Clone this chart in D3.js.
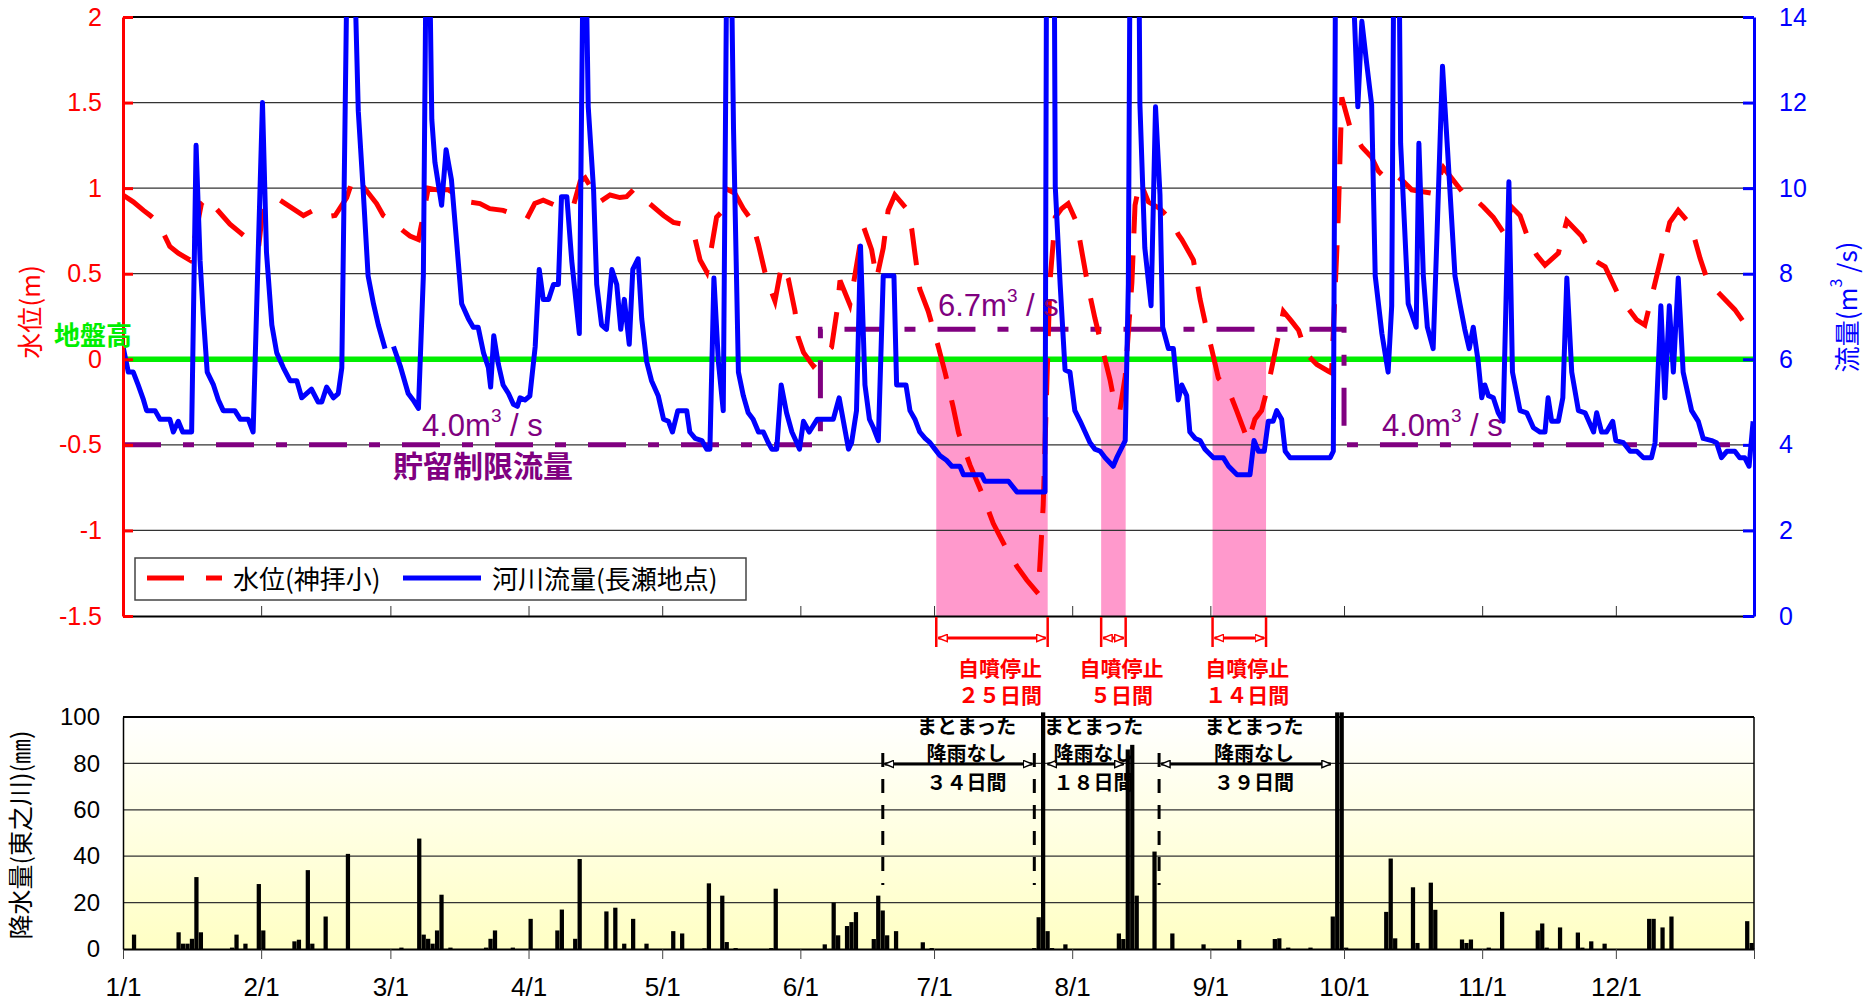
<!DOCTYPE html>
<html>
<head>
<meta charset="utf-8">
<script src="https://cdn.jsdelivr.net/npm/d3@7"></script>
<style>
body { margin: 0; background: #fff; }
text { font-family: "Liberation Sans", Arial, "Noto Sans CJK JP", sans-serif; }
.jp { font-family: "Noto Sans CJK JP", sans-serif; }
</style>
</head>
<body>
<div id="chart-area"></div>
<script>
// month starts (day of year, leap year) and their labels
var monthStarts = [0, 31, 60, 91, 121, 152, 182, 213, 244, 274, 305, 335, 366]
var monthLabels = ["1/1", "2/1", "3/1", "4/1", "5/1", "6/1", "7/1", "8/1", "9/1", "10/1", "11/1", "12/1", ""]
var levelTicks = [-1.5, -1, -0.5, 0, 0.5, 1, 1.5, 2]
var flowTicks = [0, 2, 4, 6, 8, 10, 12, 14]
var rainTicks = [0, 20, 40, 60, 80, 100]

// water level at 神拝小 (m)
var levelDays = [0, 2.3, 4.6, 6.1, 7.9, 10.5, 12.4, 15, 16.2, 17.6, 18.8, 19.9, 24, 26.3, 27.7, 29.2, 30.4, 31.1, 32.2, 35.2,
  40.5, 42.7, 44.9, 47.6, 50.2, 51.7, 53.9, 56.9, 58.4, 60.7, 62.9, 64.4, 66.3, 67, 68.5, 70.4, 73, 77.5, 80.1, 82.3,
  85.3, 90.6, 92.4, 94.3, 97, 101.1, 102.6, 103.7, 107, 109.3, 111.5, 113, 114.5, 118.6, 121.3, 123.5, 125.4, 128.4, 129.5, 131,
  132.1, 133.2, 134.3, 135.8, 137.3, 139.2, 141.1, 142.6, 144.4, 146.3, 147.8, 149.3, 150.8, 151.5, 152.7, 154.9, 159, 160.2, 160.9, 163.1,
  164.3, 166.1, 168, 169.1, 170.6, 171.7, 173.2, 175.8, 177, 177.7, 178.8, 180.7, 183, 184.5, 186.3, 187.5, 190.1, 192.7, 195.3, 198.3,
  200.6, 202.8, 205.4, 206.5, 208, 209.2, 210.6, 212.1, 214, 215.5, 216.6, 218.1, 219.6, 221.5, 222.6, 223.7, 224.9, 226.4, 227.1, 228.2,
  230.1, 232.7, 235, 236.8, 237.6, 240.2, 241.7, 242.8, 244.3, 245.8, 248.1, 249.9, 252.5, 254, 255.5, 257, 258.5, 260.4, 262.3, 263.8,
  265.6, 267.9, 270.5, 271.2, 272.7, 273.5, 275.3, 278, 280.2, 281.7, 283.6, 285.4, 287.3, 289.2, 293.7, 296.3, 300.8, 303, 305.3, 307.5,
  309.8, 311.6, 313.5, 315.4, 317.2, 319.1, 322.1, 324, 327.3, 328.8, 330.7, 332.6, 335.5, 337.4, 339.7, 341.5, 347.1, 349, 351.3, 352.4,
  353.9, 355.7, 357.6, 361.7, 363.6, 364.7, 366]
var levelValues = [0.96, 0.92, 0.87, 0.84, 0.80, 0.66, 0.62, 0.58, 0.72, 0.91, 0.945, 0.91, 0.79, 0.74, 0.71, 0.67, 0.65, 0.81, 0.92, 0.93,
  0.84, 0.87, 0.83, 0.84, 0.945, 1.06, 1.01, 0.91, 0.84, 0.80, 0.75, 0.72, 0.70, 0.79, 1.0, 0.99, 0.99, 0.92, 0.91, 0.88,
  0.87, 0.82, 0.91, 0.93, 0.90, 0.90, 1.04, 1.06, 0.92, 0.96, 0.945, 0.95, 0.99, 0.90, 0.84, 0.80, 0.79, 0.70, 0.58, 0.51,
  0.66, 0.83, 0.86, 0.99, 0.97, 0.88, 0.81, 0.67, 0.47, 0.34, 0.55, 0.47, 0.28, 0.13, 0.04, -0.04, 0.07, 0.28, 0.46, 0.32,
  0.50, 0.78, 0.64, 0.47, 0.65, 0.87, 0.96, 0.88, 0.76, 0.62, 0.41, 0.28, 0.07, -0.08, -0.28, -0.43, -0.62, -0.78, -0.96, -1.11,
  -1.21, -1.29, -1.37, -0.85, 0.45, 0.83, 0.88, 0.91, 0.80, 0.58, 0.42, 0.24, 0.08, -0.12, -0.27, -0.30, -0.10, 0.45, 0.90, 1.04,
  0.92, 0.88, 0.82, 0.73, 0.70, 0.58, 0.35, 0.22, 0.06, -0.11, -0.18, -0.30, -0.48, -0.35, -0.30, -0.15, 0.04, 0.28, 0.22, 0.17,
  0.03, -0.03, -0.07, -0.08, 0.83, 1.53, 1.36, 1.24, 1.18, 1.10, 1.05, 1.08, 1.04, 0.99, 0.97, 1.12, 0.97, 0.945, 0.89, 0.83,
  0.74, 0.89, 0.84, 0.70, 0.61, 0.55, 0.62, 0.81, 0.72, 0.65, 0.57, 0.54, 0.38, 0.31, 0.23, 0.20, 0.80, 0.87, 0.80, 0.73,
  0.59, 0.45, 0.40, 0.29, 0.22, 0.18, 0.22]

// river flow at 長瀬 (m3/s); null = missing
var flowDays = [0, 1.2, 2.3, 3.4, 4.6, 5.3, 7.2, 8.3, 10.5, 11.3, 12.4, 13.4, 15.4, 16.4, 17.3, 18, 18.9, 20.3, 21.4, 22.5,
  25.1, 26.3, 28.1, 29.2, 31.3, 32.2, 33.4, 34.5, 36, 37.5, 39, 40.1, 42.3, 43.8, 44.6, 45.7, 47.2, 48.3, 49.1, 50.5,
  51.5, 52.8, 53.9, 55, 56.2, 57.3, 58.8, 59.7, 60.7, 62.2, 64, 65.1, 66.3, 67.4, 68.3, 69.3, 70, 71.5, 72.5, 73.7,
  74.9, 76, 77.5, 78.6, 79.7, 80.9, 82, 82.5, 83.2, 84.2, 85.3, 86.5, 87.6, 88.5, 89.1, 90.2, 91.3, 92.5, 93.4, 94.3,
  95.5, 96.6, 97.7, 98.4, 99.6, 100.7, 102.4, 103.4, 103.8, 104.4, 105.6, 106.3, 107.4, 108.5, 109.7, 110.8, 111.7, 112.5, 113.6, 114.4,
  115.6, 116.4, 117.5, 118.6, 120.1, 121.3, 122.4, 123.3, 124.5, 126.5, 127.2, 128.4, 129.9, 131, 131.7, 132.6, 133.6, 134.7, 135.6, 136.3,
  137, 138.1, 139.2, 140.3, 141.4, 142.6, 143.7, 144.8, 145.6, 146.7, 147.7, 148.9, 150.1, 151.2, 151.8, 152.7, 154, 155.8, 159.4, 160.7,
  162.8, 163.5, 164.6, 165.5, 166.5, 167.5, 168.4, 169.5, 170.6, 173, 173.6, 175.7, 176.6, 177.7, 178.8, 180, 181.1, 182.2, 183.3, 184.8,
  186, 187.8, 188.6, 192.7, 193.4, 198.7, 200.6, 206.9, 207.5, 208.7, 209.2, 210.3, 211.4, 212.5, 213.6, 214.8, 215.9, 217, 218.1, 219.3,
  220.4, 222.2, 223, 224.9, 225.6, 226.3, 227.8, 228.2, 229.3, 230.7, 231.7, 232.7, 233.3, 234.6, 235.7, 236.8, 237.6, 238.7, 239.4, 240.6,
  241.7, 242.8, 244.7, 246.9, 248.1, 250, 252.9, 253.8, 254.8, 256.1, 257, 258.1, 258.9, 260, 260.8, 261.9, 270.9, 271.6, 272.3, 275.6,
  277.1, 278, 279.1, 280.2, 281, 282.5, 283.9, 284.7, 285.2, 286.3, 286.7, 287.7, 288.4, 290.2, 290.8, 291.8, 292.7, 294, 294.8, 296.1,
  297.2, 298.9, 300, 301.1, 302.1, 303, 304.1, 304.9, 305.6, 306.4, 307.5, 308.6, 309.7, 311, 311.8, 313.5, 315, 316.5, 318, 319.1,
  319.8, 320.6, 322.1, 323.1, 324, 325.1, 326.6, 328.1, 330, 330.7, 331.8, 332.9, 334.3, 335, 336.7, 338.2, 339.7, 341.2, 343, 343.8,
  345.1, 346, 347, 347.9, 349, 350.1, 352, 353.5, 354.6, 356.5, 357.6, 358.7, 359.9, 361.7, 362.8, 363.9, 364.9, 365.8]
var flowValues = [6.3, 5.7, 5.7, 5.4, 5.05, 4.8, 4.8, 4.6, 4.6, 4.3, 4.55, 4.3, 4.3, 11.0, 8.3, 7.05, 5.7, 5.4, 5.05, 4.8,
  4.8, 4.6, 4.6, 4.3, 12.0, 8.5, 6.8, 6.15, 5.8, 5.5, 5.5, 5.1, 5.3, 5.0, 5.0, 5.35, 5.1, 5.2, 5.8, 17,
  17, 11.8, 9.95, 7.95, 7.3, 6.8, 6.25, null, 6.3, 5.85, 5.2, 5.05, 4.85, 7.95, 19, 11.6, 10.6, 9.6, 10.9, 10.2,
  8.7, 7.3, 6.95, 6.75, 6.75, 6.15, 5.8, 5.35, 6.55, 5.9, 5.4, 5.2, 4.95, 4.9, 5.1, 5.05, 5.14, 6.3, 8.1, 7.4,
  7.4, 7.75, 7.75, 9.8, 9.8, 8.3, 6.6, 17, 16, 11.9, 9.95, 7.75, 6.8, 6.7, 8.1, 7.75, 6.7, 7.4, 6.35, 8.1,
  8.35, 6.95, 5.95, 5.5, 5.15, 4.6, 4.55, 4.3, 4.8, 4.8, 4.3, 4.15, 4.1, 3.9, 3.9, 7.9, 5.95, 4.8, 17, 17,
  11.4, 5.7, 5.15, 4.75, 4.6, 4.3, 4.3, 4.05, 3.9, 3.9, 5.4, 4.75, 4.3, 4.05, 3.9, 4.55, 4.3, 4.6, 4.6, 5.1,
  3.9, 4.05, 4.8, 8.65, 5.4, 4.6, 4.4, 4.1, 7.95, 7.95, 5.4, 5.4, 4.8, 4.6, 4.3, 4.15, 4.05, 3.9, 3.75, 3.64,
  3.5, 3.5, 3.3, 3.3, 3.15, 3.15, 2.9, 2.9, 25, 22, 10.05, 7.75, 5.75, 5.7, 4.8, 4.55, 4.3, 4.05, 3.9, 3.85,
  3.7, 3.5, 3.7, 4.1, 7.75, 22, 18, 11.95, 8.6, 7.25, 11.9, 9.85, 6.75, 6.25, 6.25, 5.05, 5.4, 5.15, 4.3, 4.15,
  4.1, 3.9, 3.7, 3.7, 3.5, 3.3, 3.3, 4.1, 3.85, 3.85, 4.55, 4.55, 4.8, 4.6, 3.85, 3.7, 3.7, 3.85, 20, 16,
  11.9, 13.9, 12.9, 11.95, 7.95, 6.6, 5.7, 7.25, 16, 16, 11.05, 8.85, 7.3, 6.75, 11.05, 7.95, 6.75, 6.25, 8.7, 12.85,
  10.95, 7.95, 7.3, 6.7, 6.25, 6.75, 5.95, 5.1, 5.4, 5.15, 5.1, 4.75, 4.55, 10.15, 5.7, 4.8, 4.75, 4.4, 4.3, 4.3,
  5.1, 4.55, 4.55, 5.1, 7.9, 5.7, 4.8, 4.75, 4.3, 4.75, 4.3, 4.3, 4.55, 4.1, 4.05, 3.85, 3.85, 3.7, 3.7, 4.05,
  7.25, 5.1, 7.25, 5.7, 7.9, 5.7, 4.8, 4.55, 4.15, 4.1, 4.05, 3.7, 3.85, 3.85, 3.7, 3.7, 3.5, 4.55]

// daily rainfall at 東之川 (mm)
var rainDays = [2, 12, 13, 14, 15, 16, 17, 24, 25, 27, 30, 31, 38, 39, 41, 42, 45, 50, 62, 66,
  67, 68, 69, 70, 71, 73, 81, 82, 83, 87, 91, 97, 98, 101, 102, 108, 110, 112, 114, 117,
  123, 125, 130, 131, 134, 135, 137, 145, 146, 157, 159, 160, 162, 163, 164, 168, 169, 170, 171, 173,
  179, 181, 204, 205, 206, 207, 208, 211, 223, 224, 225, 226, 227, 231, 235, 242, 250, 258, 259, 261,
  266, 271, 272, 273, 274, 283, 284, 285, 289, 290, 293, 294, 300, 301, 302, 306, 309, 317, 318, 319,
  322, 326, 327, 329, 332, 342, 343, 345, 347, 364, 365]
var rainValues = [6.2, 7.2, 2.3, 2.3, 4.4, 31, 7.2, 0.6, 6.2, 2.3, 28, 8, 3.3, 4, 34, 2.3, 14, 41, 0.6, 47.6,
  6.2, 4.4, 2.3, 8, 23.4, 0.6, 0.6, 4.4, 8, 0.6, 13, 8, 17, 4.4, 38.8, 16.2, 17.8, 2.3, 13, 2.3,
  7.7, 6.7, 0.3, 28.3, 23, 3, 0.4, 0.4, 26, 2, 20, 5.9, 9.9, 11.6, 15.9, 4.3, 23, 16.6, 5.9, 7.7,
  2.9, 0.4, 0.4, 13.7, 102, 7.7, 0.4, 2, 6.7, 4.3, 86, 88, 23, 42, 6.7, 2, 3.9, 4.3, 4.6, 0.6,
  0.6, 14, 102, 102, 0.6, 16, 39, 4.6, 26.6, 2.6, 28.6, 16.9, 4.1, 2.6, 4.1, 0.6, 16, 8, 11, 0.6,
  9.3, 7.1, 0.6, 3.3, 2.3, 13, 13, 9.3, 14, 12, 2.6]

// storage limit flow (m3/s)
var limitDays = [0, 156.5, 156.5, 274, 274, 366]
var limitValues = [4.0, 4.0, 6.7, 6.7, 4.0, 4.0]

// artesian flow stopped periods
var stopStart = [182.5, 219.5, 244.5]
var stopEnd = [207.5, 225, 256.5]
var stopLabels = ["２５日間", "５日間", "１４日間"]

// periods without significant rain
var dryStart = [170.5, 207, 232.5]
var dryEnd = [204.5, 225, 271.5]
var dryLabels = ["３４日間", "１８日間", "３９日間"]
var dryMarks = [170.5, 204.5, 232.5]

var width = 1871
var height = 1001
var L = 123, R = 1754
var top1 = 17, bot1 = 616
var top2 = 717, bot2 = 949

var svg = d3.select("#chart-area").append("svg")
  .attr("width", width).attr("height", height)

var defs = svg.append("defs")
defs.append("clipPath").attr("id", "clip1").append("rect")
  .attr("x", L).attr("y", top1).attr("width", R - L).attr("height", bot1 - top1)
var grad = defs.append("linearGradient").attr("id", "rainbg")
  .attr("x1", 0).attr("y1", 0).attr("x2", 0).attr("y2", 1)
grad.append("stop").attr("offset", "0%").attr("stop-color", "#ffffff")
grad.append("stop").attr("offset", "100%").attr("stop-color", "#ffffc4")

function marker(id, color) {
  defs.append("marker").attr("id", id)
    .attr("viewBox", "0 0 10 10").attr("refX", 10).attr("refY", 5)
    .attr("markerUnits", "userSpaceOnUse")
    .attr("markerWidth", 10).attr("markerHeight", 9)
    .attr("orient", "auto-start-reverse")
    .append("path").attr("d", "M0,1 L10,5 L0,9 Z")
    .attr("fill", "#fff").attr("stroke", color).attr("stroke-width", 1.6)
}
marker("arrR", "#ff0000")
marker("arrK", "#000000")

var x = d3.scaleLinear().domain([0, 366]).range([L, R])
var yL = d3.scaleLinear().domain([-1.5, 2]).range([bot1, top1])
var yR = d3.scaleLinear().domain([0, 14]).range([bot1, top1])
var yB = d3.scaleLinear().domain([0, 100]).range([bot2, top2])

// ---------- upper chart ----------
var g1 = svg.append("g")

g1.selectAll("rect.stop").data(stopStart).enter().append("rect")
  .attr("class", "stop")
  .attr("x", (d) => x(d))
  .attr("y", yL(0))
  .attr("width", (d, i) => x(stopEnd[i]) - x(d))
  .attr("height", bot1 - yL(0))
  .attr("fill", "#ff99cc")

g1.selectAll("line.grid").data(levelTicks.filter((d) => d > -1.5)).enter().append("line")
  .attr("class", "grid")
  .attr("x1", L).attr("x2", R)
  .attr("y1", (d) => yL(d)).attr("y2", (d) => yL(d))
  .attr("stroke", (d) => d == 2 ? "#000" : "#333")
  .attr("stroke-width", (d) => d == 2 ? 2 : 1.2)

g1.append("line")
  .attr("x1", L).attr("x2", R).attr("y1", yL(0)).attr("y2", yL(0))
  .attr("stroke", "#00ee00").attr("stroke-width", 5.5)

var plot = g1.append("g").attr("clip-path", "url(#clip1)")

var limitPts = limitDays.map((d, i) => [d, limitValues[i]])
plot.append("path").datum(limitPts)
  .attr("d", d3.line().x((d) => x(d[0])).y((d) => yR(d[1])))
  .attr("fill", "none").attr("stroke", "#800080").attr("stroke-width", 5)
  .attr("stroke-dasharray", "38,22,11,22")

var levelPts = levelDays.map((d, i) => [d, levelValues[i]])
plot.append("path").datum(levelPts)
  .attr("d", d3.line().x((d) => x(d[0])).y((d) => yL(d[1])))
  .attr("fill", "none").attr("stroke", "#ff0000").attr("stroke-width", 5)
  .attr("stroke-dasharray", "37,22")

var flowPts = flowDays.map((d, i) => [d, flowValues[i]])
plot.append("path").datum(flowPts)
  .attr("d", d3.line().defined((d) => d[1] != null).x((d) => x(d[0])).y((d) => yR(d[1])))
  .attr("fill", "none").attr("stroke", "#0000ff").attr("stroke-width", 5)
  .attr("stroke-linejoin", "round")

// axes
var bottom1 = d3.axisBottom(x).tickValues(monthStarts).tickFormat("")
  .tickSizeInner(-10).tickSizeOuter(0)
g1.append("g").attr("transform", `translate(0, ${bot1})`).call(bottom1)
  .call((a) => a.select(".domain").attr("stroke-width", 2))
  .call((a) => a.selectAll(".tick line").attr("stroke", "#333"))

var leftAxis = d3.axisLeft(yL).tickValues(levelTicks).tickSizeInner(-10).tickSizeOuter(0)
  .tickPadding(21).tickFormat((d) => d)
g1.append("g").attr("transform", `translate(${L}, 0)`).call(leftAxis)
  .call((a) => a.select(".domain").attr("stroke", "#ff0000").attr("stroke-width", 3))
  .call((a) => a.selectAll(".tick line").attr("stroke", "#ff0000").attr("stroke-width", 3))
  .call((a) => a.selectAll("text").attr("fill", "#ff0000").attr("font-size", "25px")
    .attr("font-family", "Liberation Sans, Arial, sans-serif"))

var rightAxis = d3.axisRight(yR).tickValues(flowTicks).tickSizeInner(-11).tickSizeOuter(0).tickPadding(25)
g1.append("g").attr("transform", `translate(${R}, 0)`).call(rightAxis)
  .call((a) => a.select(".domain").attr("stroke", "#0000ff").attr("stroke-width", 3))
  .call((a) => a.selectAll(".tick line").attr("stroke", "#0000ff").attr("stroke-width", 3))
  .call((a) => a.selectAll("text").attr("fill", "#0000ff").attr("font-size", "25px")
    .attr("font-family", "Liberation Sans, Arial, sans-serif"))

g1.append("text").attr("class", "jp")
  .attr("transform", `translate(28, 312) rotate(-90)`)
  .attr("text-anchor", "middle").attr("dominant-baseline", "central")
  .attr("font-size", "26px").attr("fill", "#ff0000")
  .text("水位(m)")

var rt = g1.append("text").attr("class", "jp")
  .attr("transform", `translate(1845, 307) rotate(-90)`)
  .attr("text-anchor", "middle").attr("dominant-baseline", "central")
  .attr("font-size", "26px").attr("fill", "#0000ff")
rt.append("tspan").text("流量(m")
rt.append("tspan").attr("font-size", "16px").attr("dy", -10).text("3")
rt.append("tspan").attr("dy", 10).text(" /s)")

g1.append("text").attr("class", "jp")
  .attr("x", 54).attr("y", 345)
  .attr("font-size", "26px").attr("font-weight", "bold").attr("fill", "#00ee00")
  .text("地盤高")

function unitLabel(px, py, num) {
  var t = g1.append("text").attr("x", px).attr("y", py)
    .attr("font-size", "31px").attr("fill", "#800080")
  t.append("tspan").text(num + "m")
  t.append("tspan").attr("font-size", "19px").attr("dy", -14).text("3")
  t.append("tspan").attr("dy", 14).text(" / s")
}
unitLabel(422, 436, "4.0")
unitLabel(938, 316, "6.7")
unitLabel(1382, 436, "4.0")

g1.append("text").attr("class", "jp")
  .attr("x", 393).attr("y", 477)
  .attr("font-size", "30px").attr("font-weight", "bold").attr("fill", "#800080")
  .text("貯留制限流量")

// legend
var lg = g1.append("g")
lg.append("rect").attr("x", 135).attr("y", 558).attr("width", 611).attr("height", 42)
  .attr("fill", "#fff").attr("stroke", "#444").attr("stroke-width", 1.5)
lg.append("line").attr("x1", 147).attr("x2", 222).attr("y1", 578).attr("y2", 578)
  .attr("stroke", "#ff0000").attr("stroke-width", 5).attr("stroke-dasharray", "37,22")
lg.append("text").attr("class", "jp").attr("x", 233).attr("y", 589)
  .attr("font-size", "26px").attr("fill", "#000").text("水位(神拝小)")
lg.append("line").attr("x1", 403).attr("x2", 481).attr("y1", 578).attr("y2", 578)
  .attr("stroke", "#0000ff").attr("stroke-width", 5)
lg.append("text").attr("class", "jp").attr("x", 492).attr("y", 589)
  .attr("font-size", "26px").attr("fill", "#000").text("河川流量(長瀬地点)")

// stop-period annotations
var ann = svg.append("g")
stopStart.forEach((s, i) => {
  var e = stopEnd[i]
  ;[s, e].forEach((d) => {
    ann.append("line").attr("x1", x(d)).attr("x2", x(d)).attr("y1", bot1 + 1).attr("y2", 647)
      .attr("stroke", "#ff0000").attr("stroke-width", 2.5)
  })
  ann.append("line").attr("x1", x(s) + 2).attr("x2", x(e) - 2).attr("y1", 638).attr("y2", 638)
    .attr("stroke", "#ff0000").attr("stroke-width", 3)
    .attr("marker-start", "url(#arrR)").attr("marker-end", "url(#arrR)")
  var cx = (x(s) + x(e)) / 2 + 8
  ann.append("text").attr("class", "jp").attr("x", cx).attr("y", 676)
    .attr("text-anchor", "middle").attr("font-size", "21px").attr("font-weight", "bold")
    .attr("fill", "#ff0000").text("自噴停止")
  ann.append("text").attr("class", "jp").attr("x", cx).attr("y", 703)
    .attr("text-anchor", "middle").attr("font-size", "21px").attr("font-weight", "bold")
    .attr("fill", "#ff0000").text(stopLabels[i])
})

// ---------- lower chart ----------
var g2 = svg.append("g")
g2.append("rect").attr("x", L).attr("y", top2).attr("width", R - L).attr("height", bot2 - top2)
  .attr("fill", "url(#rainbg)")

g2.selectAll("line.grid").data(rainTicks.filter((d) => d > 0)).enter().append("line")
  .attr("class", "grid")
  .attr("x1", L).attr("x2", R)
  .attr("y1", (d) => yB(d)).attr("y2", (d) => yB(d))
  .attr("stroke", (d) => d == 100 ? "#000" : "#333")
  .attr("stroke-width", (d) => d == 100 ? 2 : 1.2)
g2.append("line").attr("x1", R).attr("x2", R).attr("y1", top2).attr("y2", bot2)
  .attr("stroke", "#000").attr("stroke-width", 1.5)

var bw = x(1) - x(0)
g2.selectAll("rect.bar").data(rainDays).enter().append("rect")
  .attr("class", "bar")
  .attr("x", (d) => x(d))
  .attr("y", (d, i) => yB(rainValues[i]))
  .attr("width", bw - 0.2)
  .attr("height", (d, i) => bot2 - yB(rainValues[i]))
  .attr("fill", "#000")

var bottom2 = d3.axisBottom(x).tickValues(monthStarts).tickFormat((d, i) => monthLabels[i])
  .tickSizeInner(10).tickSizeOuter(0).tickPadding(19)
g2.append("g").attr("transform", `translate(0, ${bot2})`).call(bottom2)
  .call((a) => a.select(".domain").attr("stroke-width", 2))
  .call((a) => a.selectAll(".tick line").attr("stroke", "#444"))
  .call((a) => a.selectAll("text").attr("fill", "#000").attr("font-size", "26px")
    .attr("font-family", "Liberation Sans, Arial, sans-serif"))

var left2 = d3.axisLeft(yB).tickValues(rainTicks).tickSize(0).tickPadding(23)
g2.append("g").attr("transform", `translate(${L}, 0)`).call(left2)
  .call((a) => a.select(".domain").attr("stroke-width", 1.5))
  .call((a) => a.selectAll("text").attr("fill", "#000").attr("font-size", "24px")
    .attr("font-family", "Liberation Sans, Arial, sans-serif"))

g2.append("text").attr("class", "jp")
  .attr("transform", `translate(19, 835) rotate(-90)`)
  .attr("text-anchor", "middle").attr("dominant-baseline", "central")
  .attr("font-size", "25px").attr("fill", "#000")
  .text("降水量(東之川)(㎜)")

// dry-period annotations
g2.selectAll("line.drymark").data(dryMarks).enter().append("line")
  .attr("class", "drymark")
  .attr("x1", (d) => x(d)).attr("x2", (d) => x(d))
  .attr("y1", 753).attr("y2", 885)
  .attr("stroke", "#000").attr("stroke-width", 3).attr("stroke-dasharray", "14,12")

dryStart.forEach((s, i) => {
  var e = dryEnd[i]
  g2.append("line").attr("x1", x(s) + 2).attr("x2", x(e) - 2).attr("y1", 764).attr("y2", 764)
    .attr("stroke", "#000").attr("stroke-width", 3)
    .attr("marker-start", "url(#arrK)").attr("marker-end", "url(#arrK)")
  var cx = (x(s) + x(e)) / 2 + 8
  g2.append("text").attr("class", "jp").attr("x", cx).attr("y", 734)
    .attr("text-anchor", "middle").attr("font-size", "20px").attr("font-weight", "bold")
    .attr("fill", "#000").text("まとまった")
  g2.append("text").attr("class", "jp").attr("x", cx).attr("y", 761)
    .attr("text-anchor", "middle").attr("font-size", "20px").attr("font-weight", "bold")
    .attr("fill", "#000").text("降雨なし")
  g2.append("text").attr("class", "jp").attr("x", cx).attr("y", 790)
    .attr("text-anchor", "middle").attr("font-size", "20px").attr("font-weight", "bold")
    .attr("fill", "#000").text(dryLabels[i])
})
</script>
</body>
</html>
